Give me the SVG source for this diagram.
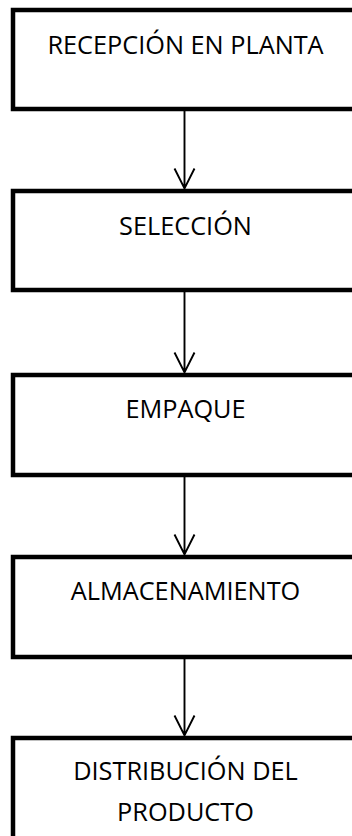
<svg xmlns="http://www.w3.org/2000/svg" width="352" height="836" viewBox="0 0 352 836">
<style>
.box{fill:#fff;stroke:#000;stroke-width:4.5;stroke-linejoin:miter}
.lbl{font-family:"Open Sans","Liberation Sans",sans-serif;font-size:25.3px;fill:#000;text-anchor:middle}
.conn{stroke:#000;stroke-width:1.9;fill:none}
</style>
<rect width="352" height="836" fill="#fff"/>
<g id="n1"><rect class="box" x="13" y="10" width="344" height="99"/><text class="lbl" x="185.5" y="54">RECEPCIÓN EN PLANTA</text></g>
<g id="n2"><rect class="box" x="13" y="191" width="344" height="99"/><text class="lbl" x="185.5" y="235">SELECCIÓN</text></g>
<g id="n3"><rect class="box" x="13" y="375" width="344" height="100"/><text class="lbl" x="185.5" y="418">EMPAQUE</text></g>
<g id="n4"><rect class="box" x="13" y="557" width="344" height="100"/><text class="lbl" x="185.5" y="600">ALMACENAMIENTO</text></g>
<g id="n5"><rect class="box" x="13" y="738" width="344" height="110"/><text class="lbl" x="185.5" y="780">DISTRIBUCIÓN DEL</text><text class="lbl" x="185.5" y="821">PRODUCTO</text></g>
<g id="connectors">
<path class="conn" d="M184.5 111V188.5M174.5 168.5L184.5 188.5L194.5 168.5"/>
<path class="conn" d="M184.5 292V372.5M174.5 352.5L184.5 372.5L194.5 352.5"/>
<path class="conn" d="M184.5 477V554.5M174.5 534.5L184.5 554.5L194.5 534.5"/>
<path class="conn" d="M184.5 659V735.5M174.5 715.5L184.5 735.5L194.5 715.5"/>
</g>
</svg>
